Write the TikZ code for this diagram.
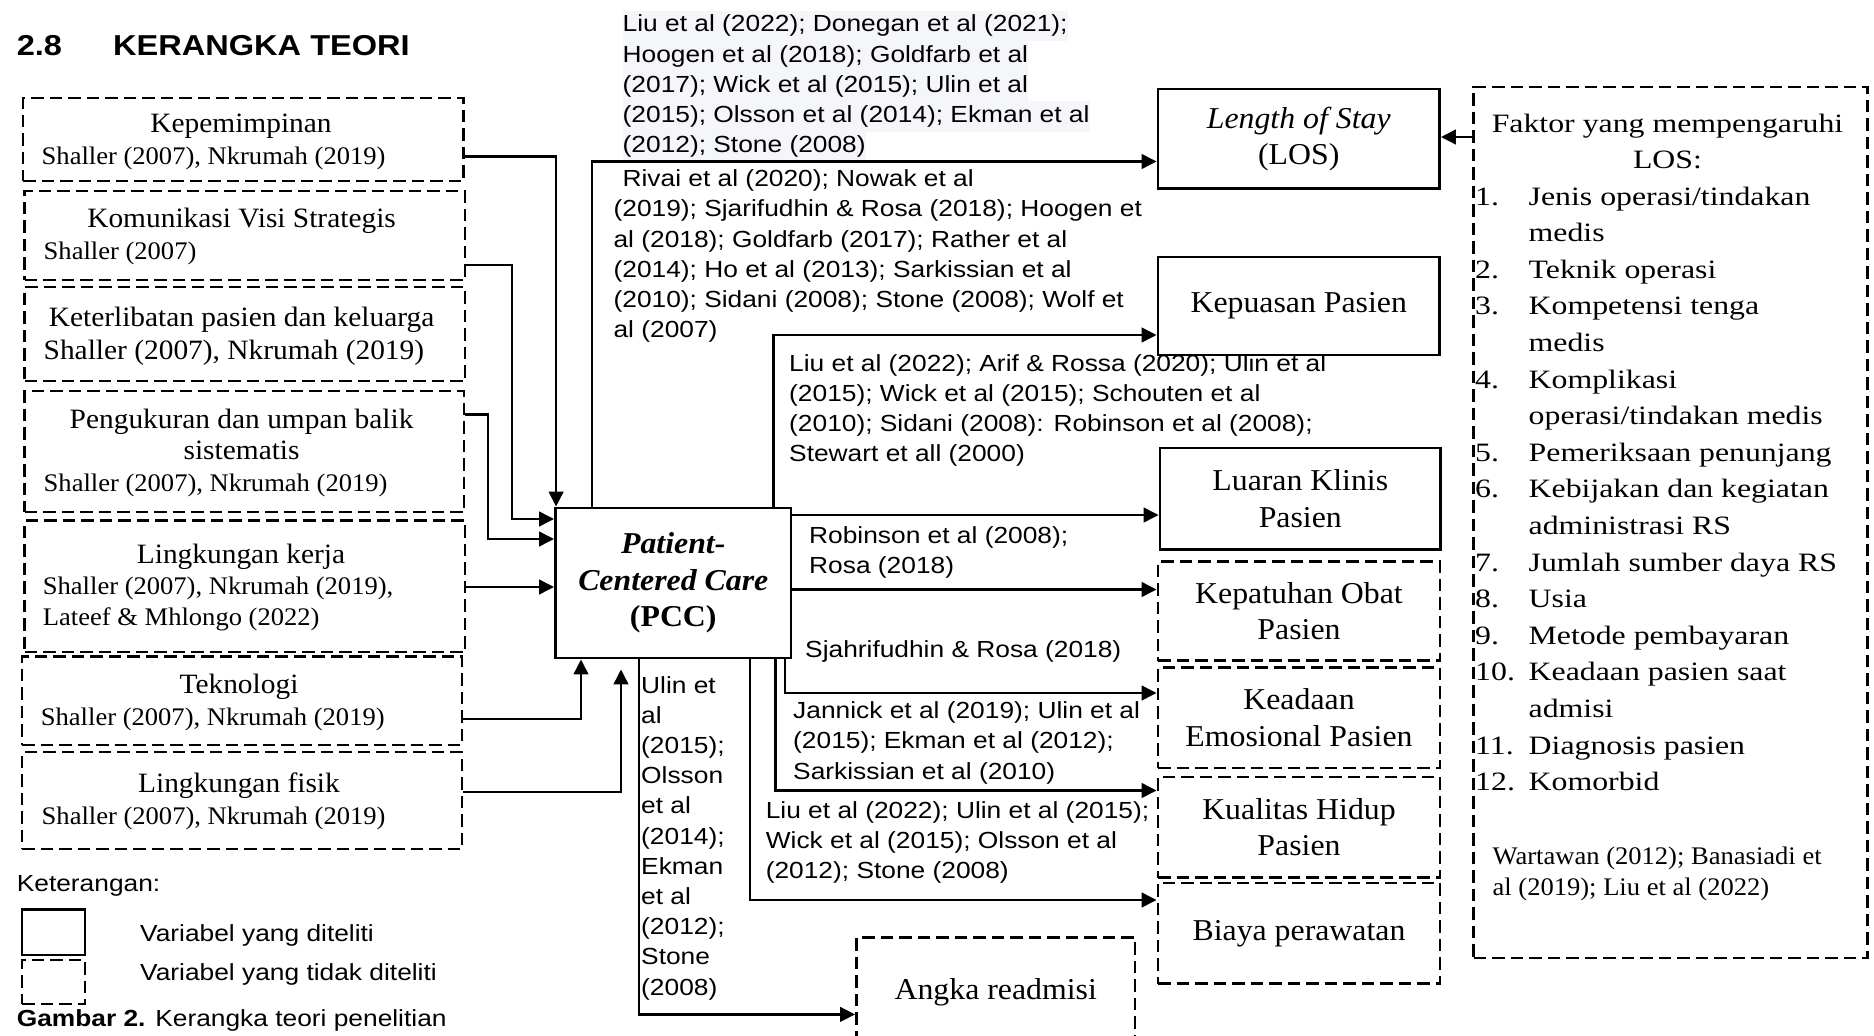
\documentclass[tikz,border=0pt]{standalone}
\usepackage{fontspec}
\setmainfont{Liberation Serif}
\newfontfamily\serifL{Liberation Serif}[FakeStretch=1.05]
\newfontfamily\serifR{Liberation Serif}[FakeStretch=1.2]
\newfontfamily\sansX{Liberation Sans}[FakeStretch=1.13]
\usetikzlibrary{arrows.meta}
\definecolor{Ink}{HTML}{000000}
\definecolor{Shade}{HTML}{F5F6F9}
\setlength{\fboxsep}{0pt}

\begin{document}
\begin{tikzpicture}[x=1pt,y=-1pt,every node/.style={inner sep=0pt,text=Ink},solidbox/.style={draw=Ink,line width=2.8pt},dashbox/.style={draw=Ink,line width=2.8pt,dash pattern=on 12.5pt off 6pt},arr/.style={draw=Ink,line width=2.7pt,-{Triangle[length=15pt,width=14.5pt]}},refs/.style={font=\sansX\fontsize{23.3}{30.2}\selectfont,align=left,anchor=north west},lab/.style={font=\serifL\fontsize{30.3}{36.5}\selectfont,align=center},ltitle/.style={font=\serifL\fontsize{28}{31.2}\selectfont,align=center},lref/.style={font=\serifL\fontsize{25.3}{30.8}\selectfont,align=left,anchor=base west},legend/.style={font=\sansX\fontsize{23.3}{28}\selectfont,anchor=base west}]
\path[use as bounding box,fill=white] (0,0) rectangle (1874,1036);
\node[anchor=base west,font=\sansX\bfseries\fontsize{28.8}{34}\selectfont] (title) at (16.6,55) {2.8\hspace{51.2pt}KERANGKA TEORI};
\node[dashbox,minimum width=440.5,minimum height=83] (kpm) at (243.25,139.5) {};
\node[ltitle,anchor=base] (kpmT) at (241,132.5) {Kepemimpinan};
\node[lref] (kpmR) at (41.5,164) {Shaller (2007), Nkrumah (2019)};
\node[dashbox,minimum width=440.5,minimum height=89] (kvs) at (244.75,235.5) {};
\node[ltitle,anchor=base] (kvsT) at (241.6,227.5) {Komunikasi Visi Strategis};
\node[lref] (kvsR) at (43.5,259) {Shaller (2007)};
\node[dashbox,minimum width=440.5,minimum height=94] (kpk) at (244.75,334) {};
\node[ltitle,anchor=base] (kpkT) at (241.6,326.5) {Keterlibatan pasien dan keluarga};
\node[lref,font=\serifL\fontsize{28}{31}\selectfont] (kpkR) at (43.5,359.5) {Shaller (2007), Nkrumah (2019)};
\node[dashbox,minimum width=439.5,minimum height=121] (puk) at (244.25,451.5) {};
\node[ltitle,anchor=north] (pukT) at (241.6,408.7) {Pengukuran dan umpan balik\\sistematis};
\node[lref] (pukR) at (43.5,491) {Shaller (2007), Nkrumah (2019)};
\node[dashbox,minimum width=440.5,minimum height=131.5] (lkk) at (244.75,586.25) {};
\node[ltitle,anchor=base] (lkkT) at (241,563) {Lingkungan kerja};
\node[lref,anchor=north west] (lkkR) at (42.7,576.7) {Shaller (2007), Nkrumah (2019),\\Lateef \& Mhlongo (2022)};
\node[dashbox,minimum width=440,minimum height=88.5] (tek) at (242,700.75) {};
\node[ltitle,anchor=base] (tekT) at (239,693) {Teknologi};
\node[lref] (tekR) at (40.7,725.6) {Shaller (2007), Nkrumah (2019)};
\node[dashbox,minimum width=440,minimum height=97] (lkf) at (242,800.5) {};
\node[ltitle,anchor=base] (lkfT) at (239,792) {Lingkungan fisik};
\node[lref] (lkfR) at (41.5,824.7) {Shaller (2007), Nkrumah (2019)};
\node[solidbox,lab,font=\serifL\bfseries\itshape\fontsize{30.3}{36.7}\selectfont,minimum width=235.5,minimum height=150] (pcc) at (673.25,583) {Patient-\\Centered Care\\\textup{(PCC)}};
\node[solidbox,lab,minimum width=281.5,minimum height=99.7] (los) at (1298.75,138.85) {\textit{Length of Stay}\\(LOS)};
\node[solidbox,lab,minimum width=281.5,minimum height=98] (kps) at (1298.75,306) {Kepuasan Pasien};
\node[solidbox,lab,minimum width=280.6,minimum height=101.6] (lkp) at (1300.3,498.8) {Luaran Klinis\\Pasien};
\node[dashbox,lab,minimum width=282,minimum height=99] (kob) at (1299,611) {Kepatuhan Obat\\Pasien};
\node[dashbox,lab,minimum width=282,minimum height=100.5] (kep) at (1299,717.75) {Keadaan\\Emosional Pasien};
\node[dashbox,lab,minimum width=282,minimum height=100.7] (kuh) at (1299,827.35) {Kualitas Hidup\\Pasien};
\node[dashbox,lab,minimum width=282,minimum height=100.6] (bip) at (1299,933.3) {Biaya perawatan};
\node[dashbox,lab,minimum width=278.5,minimum height=108.5] (ang) at (995.75,991.75) {Angka readmisi};
\node[dashbox,minimum width=393.9,minimum height=871] (fak) at (1670.65,522.5) {};
\node[anchor=north,font=\serifR\fontsize{26.5}{36.6}\selectfont,align=center] (fakT) at (1667.5,113.6) {Faktor yang mempengaruhi\\LOS:};
\node[anchor=north west,font=\serifR\fontsize{26.5}{36.6}\selectfont] (fakL) at (1475,179.3) {\begin{tabular}{@{}p{53.5pt}@{}l@{}}
1. & Jenis operasi/tindakan\\
 & medis\\
2. & Teknik operasi\\
3. & Kompetensi tenga\\
 & medis\\
4. & Komplikasi\\
 & operasi/tindakan medis\\
5. & Pemeriksaan penunjang\\
6. & Kebijakan dan kegiatan\\
 & administrasi RS\\
7. & Jumlah sumber daya RS\\
8. & Usia\\
9. & Metode pembayaran\\
10. & Keadaan pasien saat\\
 & admisi\\
11. & Diagnosis pasien\\
12. & Komorbid
\end{tabular}};
\node[lref,anchor=north west] (fakR) at (1492.4,846.7) {Wartawan (2012); Banasiadi et\\al (2019); Liu et al (2022)};
\node[refs] (rLOS) at (622.5,10.56) {\colorbox{Shade}{\strut Liu et al (2022); Donegan et al (2021);}\\\colorbox{Shade}{\strut Hoogen et al (2018); Goldfarb et al}\\\colorbox{Shade}{\strut (2017); Wick et al (2015); Ulin et al}\\\colorbox{Shade}{\strut (2015); Olsson et al (2014); Ekman et al}\\\colorbox{Shade}{\strut (2012); Stone (2008)}};
\node[refs] (rKPS) at (613.4,169.7) {\hspace*{9pt}Rivai et al (2020); Nowak et al\\(2019); Sjarifudhin \& Rosa (2018); Hoogen et\\al (2018); Goldfarb (2017); Rather et al\\(2014); Ho et al (2013); Sarkissian et al\\(2010); Sidani (2008); Stone (2008); Wolf et\\al (2007)};
\node[refs] (rLKP) at (789,354) {Liu et al (2022); Arif \& Rossa (2020); Ulin et al\\(2015); Wick et al (2015); Schouten et al\\(2010); Sidani (2008): Robinson et al (2008);\\Stewart et all (2000)};
\node[refs] (rKOB) at (809,526.5) {Robinson et al (2008);\\Rosa (2018)};
\node[refs,anchor=base west] (rKEP) at (805,657) {Sjahrifudhin \& Rosa (2018)};
\node[refs] (rKUH) at (793,701.7) {Jannick et al (2019); Ulin et al\\(2015); Ekman et al (2012);\\Sarkissian et al (2010)};
\node[refs] (rBIP) at (765.6,801) {Liu et al (2022); Ulin et al (2015);\\Wick et al (2015); Olsson et al\\(2012); Stone (2008)};
\node[refs] (rANG) at (641,676) {Ulin et\\al\\(2015);\\Olsson\\et al\\(2014);\\Ekman\\et al\\(2012);\\Stone\\(2008)};
\node[legend] (ket) at (16.6,891) {Keterangan:};
\node[solidbox,minimum width=63,minimum height=45.5] (lgS) at (53.5,932.25) {};
\node[dashbox,minimum width=63,minimum height=44] (lgD) at (53.5,982) {};
\node[legend] (lgST) at (140,941) {Variabel yang diteliti};
\node[legend] (lgDT) at (140,980) {Variabel yang tidak diteliti};
\node[legend] (caption) at (16.6,1026.4) {\textbf{Gambar 2.} Kerangka teori penelitian};
\draw[arr] (kpm.east |- 0,156.5) -| ([xshift=2pt]pcc.north west);
\draw[arr] (kvs.east |- 0,265) -- (512,265) |- (pcc.west |- 0,519);
\draw[arr] (puk.east |- 0,414.5) -- (488,414.5) |- (pcc.west |- 0,539);
\draw[arr] (lkk.east |- 0,587) -- (pcc.west |- 0,587);
\draw[arr] (tek.east |- 0,719) -| (pcc.south -| 581,0);
\draw[arr,shorten >=10pt] (lkf.east |- 0,792) -| (pcc.south -| 621,0);
\draw[arr] (pcc.north -| 592,0) |- (los.west |- 0,161.5);
\draw[arr] (pcc.north -| 773.5,0) |- (kps.west |- 0,335);
\draw[arr] (pcc.east |- 0,515) -- (lkp.west |- 0,515);
\draw[arr] (pcc.east |- 0,589.5) -- (kob.west |- 0,589.5);
\draw[arr] (pcc.south -| 785,0) |- (kep.west |- 0,693);
\draw[arr] (pcc.south -| 775.5,0) |- (kuh.west |- 0,790.5);
\draw[arr] (pcc.south -| 750,0) |- (bip.west |- 0,900);
\draw[arr] (pcc.south -| 639,0) |- (ang.west |- 0,1014.4);
\draw[arr] (fak.west |- 0,137) -- (los.east |- 0,137);
\end{tikzpicture}
\end{document}
